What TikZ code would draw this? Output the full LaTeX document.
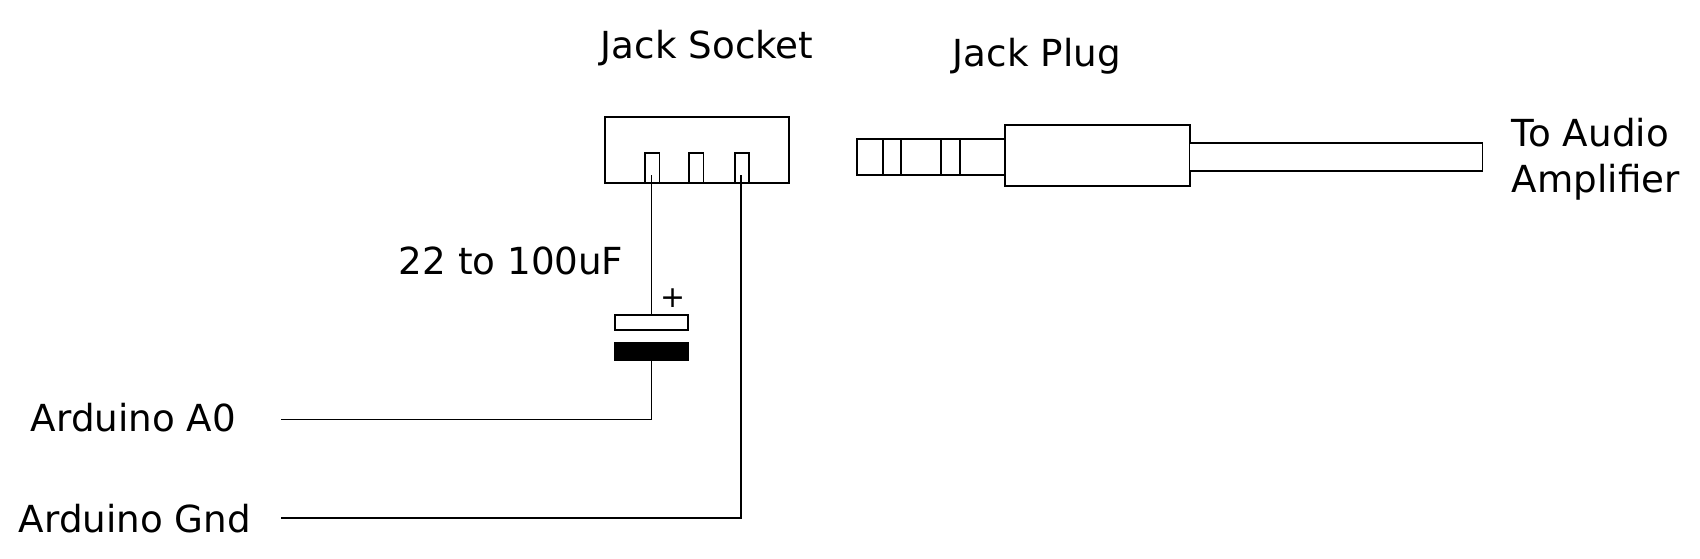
\documentclass[tikz,border=0pt]{standalone}
\usepackage{fontspec}
\setmainfont{DejaVu Sans}
\begin{document}
\begin{tikzpicture}[x = 0.02cm, y = -0.02cm, line width = 1pt,
  part/.style={draw, inner sep = 0pt, outer sep = 0pt, fill = white},
  label/.style={inner sep = 0pt, anchor = base west, font = \fontsize{21.2}{26.2}\selectfont}]

  \useasboundingbox (0, 0) rectangle (1700, 558);

  \node [label] (socketlabel) at (600, 58.5) { Jack Socket };
  \node [label] (pluglabel) at (952, 66) { Jack Plug };
  \node [label, anchor = west, align = left] (amplabel) at (1511, 159) { To Audio \\ Amplifier };
  \node [label] (caplabel) at (398, 274) { 22 to 100uF };
  \node [label] (a0label) at (30, 431) { Arduino A0 };
  \node [label] (gndlabel) at (18, 532) { Arduino Gnd };

  \node [part, minimum width = 3.68cm, minimum height = 1.33cm] (socket) at (697, 150) {};
  \node [part, minimum width = 0.29cm, minimum height = 0.61cm] (tippin) at (652.3, 168) {};
  \node [part, minimum width = 0.29cm, minimum height = 0.61cm] (ringpin) at (696.3, 168) {};
  \node [part, minimum width = 0.29cm, minimum height = 0.61cm] (gndpin) at (742, 168) {};

  \node [part, minimum width = 2.96cm, minimum height = 0.72cm] (collar) at (931, 157) {};
  \node [part, minimum width = 0.36cm, minimum height = 0.72cm] (bandone) at (892, 157) {};
  \node [part, minimum width = 0.38cm, minimum height = 0.72cm] (bandtwo) at (950.5, 157) {};
  \node [part, minimum width = 3.70cm, minimum height = 1.21cm] (body) at (1097.5, 155.5) {};
  \node [part, minimum width = 5.86cm, minimum height = 0.57cm] (cable) at (1336, 157) {};

  \node [part, minimum width = 1.46cm, minimum height = 0.29cm] (posplate) at (651.5, 322.5) {};
  \node [part, fill = black, minimum width = 1.48cm, minimum height = 0.34cm] (negplate) at (651.5, 351.5) {};
  \node [inner sep = 0pt, font = \fontsize{17}{17}\selectfont] (plus) at (673, 298.5) { + };

  \coordinate (tipend) at (651.5, 175);
  \coordinate (gndtop) at (741, 175);
  \coordinate (a0end) at (281, 419.5);
  \coordinate (gndend) at (281, 518);

  \draw (tipend) -- (posplate.north);
  \draw (negplate.south) |- (a0end);
  \draw (gndtop) |- (gndend);

\end{tikzpicture}
\end{document}
